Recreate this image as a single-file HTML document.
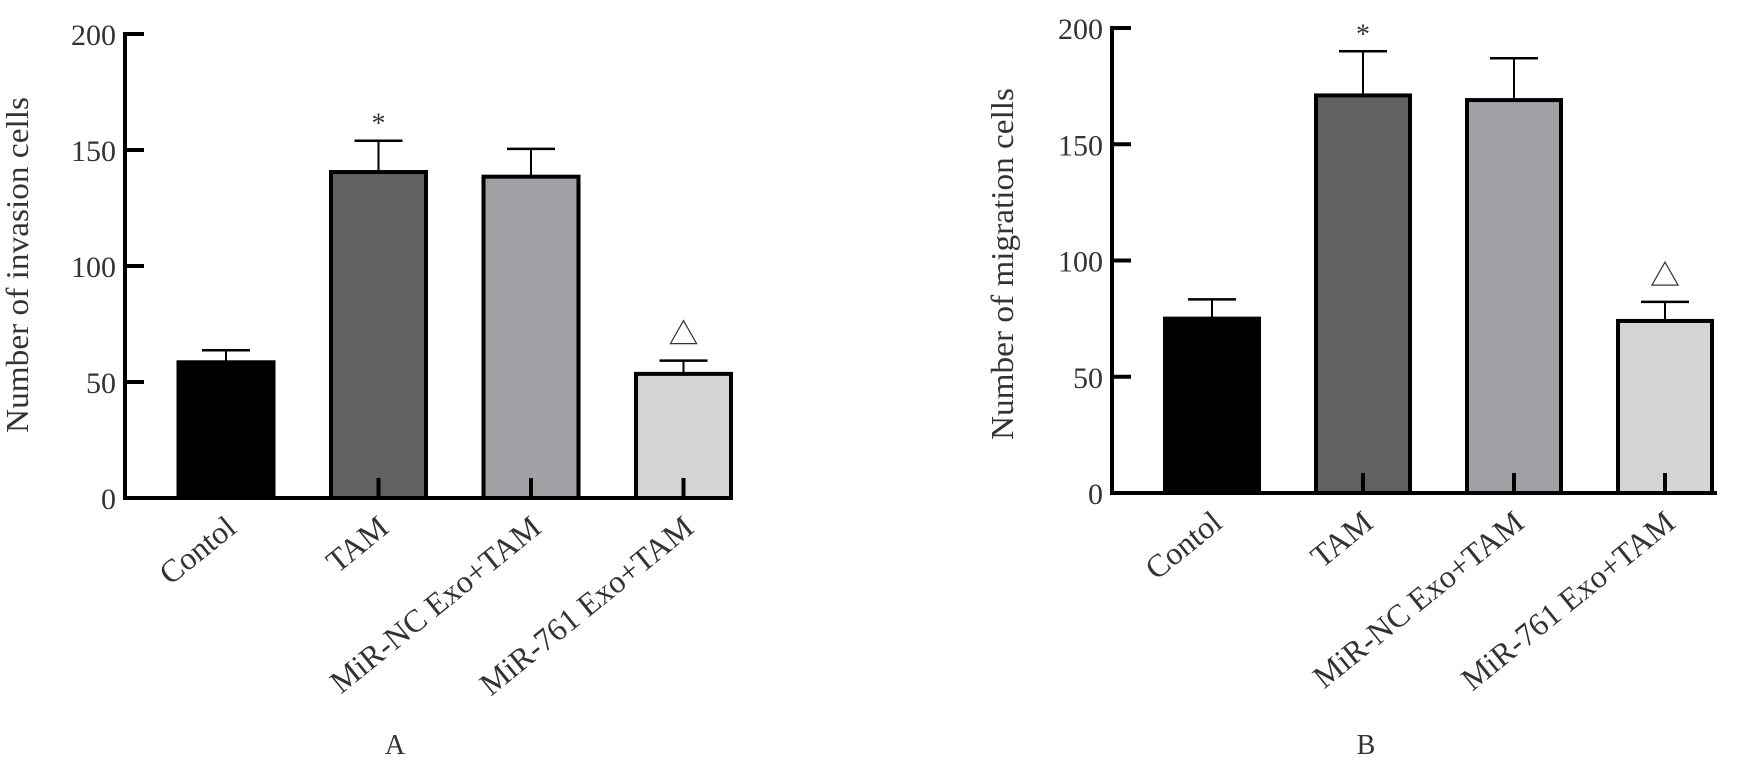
<!DOCTYPE html>
<html><head><meta charset="utf-8"><style>
html,body{margin:0;padding:0;background:#fff;}
svg{display:block;}
text{font-family:"Liberation Serif","Noto Serif CJK SC",serif;fill:#333;}
</style></head><body>
<svg id="chart" width="1745" height="784" viewBox="0 0 1745 784" xmlns="http://www.w3.org/2000/svg"></svg>
<script>
const categories = ["Contol", "TAM", "MiR-NC Exo+TAM", "MiR-761 Exo+TAM"];
const invasionValues = [58.5, 140.5, 138.5, 53.5];
const invasionErrors = [5.2, 13.5, 12, 5.7];
const migrationValues = [75, 171, 169, 74];
const migrationErrors = [8.3, 19, 18, 8.2];
const yTicks = [0, 50, 100, 150, 200];
const marksA = ["", "*", "", "△"];
const fills = ["#000000", "#616161", "#a1a0a5", "#d4d4d4"];

const NS = "http://www.w3.org/2000/svg";
const svg = document.getElementById("chart");
function mk(tag, attrs, parent) {
  const e = document.createElementNS(NS, tag);
  for (const k in attrs) e.setAttribute(k, attrs[k]);
  (parent || svg).appendChild(e);
  return e;
}

function panel(cfg) {
  const g = mk("g", {});
  
  
  const y = v => cfg.y0 - (v / 200) * (cfg.y0 - cfg.y200);
  const xc = i => cfg.firstCenter + i * cfg.pitch;
  const bw = cfg.barWidth;
  cfg.values.forEach((v, i) => {
    const top = y(v);
    const errTop = y(v + cfg.errors[i]);
    const cx = xc(i);
    const eb = mk("line", {x1: cx, x2: cx, y1: top, y2: errTop, stroke: "#000", "stroke-width": 2}, g);
    
    
    const cap = mk("line", {x1: cx - 24, x2: cx + 24, y1: errTop, y2: errTop, stroke: "#000", "stroke-width": 2.5}, g);
    
    
    const r = mk("rect", {x: cx - bw / 2 + 2, y: top, width: bw - 4, height: cfg.y0 - top, fill: fills[i], stroke: "#000", "stroke-width": 4}, g);
    
    
    const st = mk("line", {x1: cx, x2: cx, y1: cfg.y0, y2: cfg.y0 - 20, stroke: "#000", "stroke-width": 4}, g);
    
    
    const lx = cx + 12, ly = cfg.y0 + 33;
    const t = mk("text", {x: lx, y: ly, "font-size": 32, "text-anchor": "end", transform: "rotate(-39 " + lx + " " + ly + ")"}, g);
    t.textContent = categories[i];
    
    
    if (cfg.marks[i]) {
      const isStar = cfg.marks[i] === "*";
      const m = mk("text", {x: cx, y: errTop - (isStar ? 8 : 16), "font-size": isStar ? 28 : 30, "text-anchor": "middle"}, g);
      m.textContent = cfg.marks[i];
      
      
    }
  });
  const ya = mk("line", {x1: cfg.ax, x2: cfg.ax, y1: cfg.y200 - 2, y2: cfg.y0 + 2, stroke: "#000", "stroke-width": 4}, g);
  
  
  const xa = mk("line", {x1: cfg.ax - 2, x2: cfg.xEnd, y1: cfg.y0, y2: cfg.y0, stroke: "#000", "stroke-width": 4}, g);
  
  
  yTicks.forEach(v => {
    const ty = y(v);
    const tk = mk("line", {x1: cfg.ax, x2: cfg.ax + 19, y1: ty, y2: ty, stroke: "#000", "stroke-width": 4}, g);
    
    
    const tl = mk("text", {x: cfg.ax - 9, y: ty + 11, "font-size": 30, "text-anchor": "end"}, g);
    tl.textContent = String(v);
    
    
  });
  const tx = cfg.titleX, tyy = cfg.titleY;
  const yt = mk("text", {x: tx, y: tyy, "font-size": 32, "text-anchor": "middle", textLength: cfg.titleLen, lengthAdjust: "spacingAndGlyphs", transform: "rotate(-90 " + tx + " " + tyy + ")"}, g);
  yt.textContent = cfg.title;
  
  
  const pl = mk("text", {x: cfg.letterX, y: 754, "font-size": 28, "text-anchor": "middle"}, g);
  pl.textContent = cfg.letter;
  
  
}

panel({name: "panel-a-invasion", values: invasionValues, errors: invasionErrors, marks: marksA,
  y0: 498, y200: 34, ax: 125, xEnd: 729, firstCenter: 226, pitch: 152.5, barWidth: 99,
  title: "Number of invasion cells", titleX: 28, titleY: 265, titleLen: 336, letter: "A", letterX: 395});
panel({name: "panel-b-migration", values: migrationValues, errors: migrationErrors, marks: marksA,
  y0: 493, y200: 28, ax: 1112, xEnd: 1717, firstCenter: 1212, pitch: 151, barWidth: 98,
  title: "Number of migration cells", titleX: 1013, titleY: 264, titleLen: 352, letter: "B", letterX: 1366});
</script>
</body></html>
